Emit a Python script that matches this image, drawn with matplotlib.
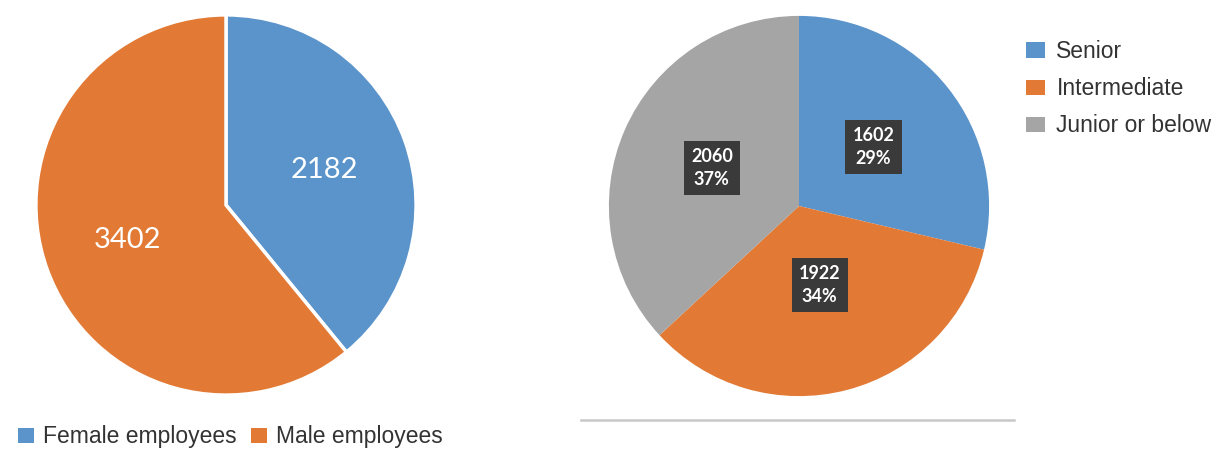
import numpy as np
import matplotlib.pyplot as plt
from matplotlib.patches import Patch
from matplotlib.lines import Line2D

# data
gender_labels = ["Female employees", "Male employees"]
gender_counts = [2182, 3402]
level_labels = ["Senior", "Intermediate", "Junior or below"]
level_counts = [1602, 1922, 2060]

blue = "#5B94CB"
orange = "#E27A35"
gray = "#A5A5A5"

W, H = 1216, 450
fig = plt.figure(figsize=(W / 100, H / 100), dpi=100)


def pie_axes(cx, cy, r):
    # cx, cy, r in image pixels (y from top)
    return fig.add_axes([(cx - r) / W, (H - cy - r) / H, 2 * r / W, 2 * r / H])


# left pie
ax1 = pie_axes(226, 205, 192)
wedges1, _, texts1 = ax1.pie(gender_counts, colors=[blue, orange], startangle=90, counterclock=False,
                             autopct=lambda p: "%d" % round(p * sum(gender_counts) / 100),
                             pctdistance=0.55, wedgeprops=dict(edgecolor="white", linewidth=2.5))
for t in texts1:
    t.set_color("white")
    t.set_fontsize(21)
    t.set_family(["Lato", "DejaVu Sans"])
ax1.set_xlim(-1.01, 1.01)
ax1.set_ylim(-1.01, 1.01)

# right pie
ax2 = pie_axes(799, 206, 192)
wedges2, _ = ax2.pie(level_counts, colors=[blue, orange, gray], startangle=90, counterclock=False)
ax2.set_xlim(-1.01, 1.01)
ax2.set_ylim(-1.01, 1.01)

total = sum(level_counts)
dists = [0.5, 0.43, 0.5]
ang = 90.0
for v, d in zip(level_counts, dists):
    span = v / total * 360
    mid = np.deg2rad(ang - span / 2)
    ang -= span
    ax2.text(d * np.cos(mid), d * np.sin(mid), "%d\n%d%%" % (v, round(v / total * 100)),
             ha="center", va="center", color="white", fontsize=13, fontweight="bold",
             family=["Lato", "DejaVu Sans"], linespacing=1.45,
             bbox=dict(boxstyle="square,pad=0.4", facecolor="#3A3A3A", edgecolor="none"))

# left legend
fig.legend([Patch(facecolor=blue), Patch(facecolor=orange)], gender_labels,
           loc="center left", bbox_to_anchor=(18 / W, 1 - 437 / H), ncol=2, frameon=False,
           handlelength=0.7, handleheight=0.68, handletextpad=0.4,
           columnspacing=0.6, borderpad=0, borderaxespad=0, labelcolor="#333333",
           prop={"family": ["Liberation Sans"], "size": 16.5})

# right legend
fig.legend([Patch(facecolor=blue), Patch(facecolor=orange), Patch(facecolor=gray)], level_labels,
           loc="upper left", bbox_to_anchor=(1026 / W, 1 - 40 / H), frameon=False,
           handlelength=0.83, handleheight=0.65, handletextpad=0.5, labelspacing=0.62,
           borderpad=0, borderaxespad=0, labelcolor="#333333",
           prop={"family": ["Liberation Sans"], "size": 16.5})

# baseline under right pie
fig.add_artist(Line2D([581 / W, 1014 / W], [1 - 420 / H] * 2, color="#C8C8C8", linewidth=1.8,
                      transform=fig.transFigure))

fig.savefig("out.png", dpi=100)
